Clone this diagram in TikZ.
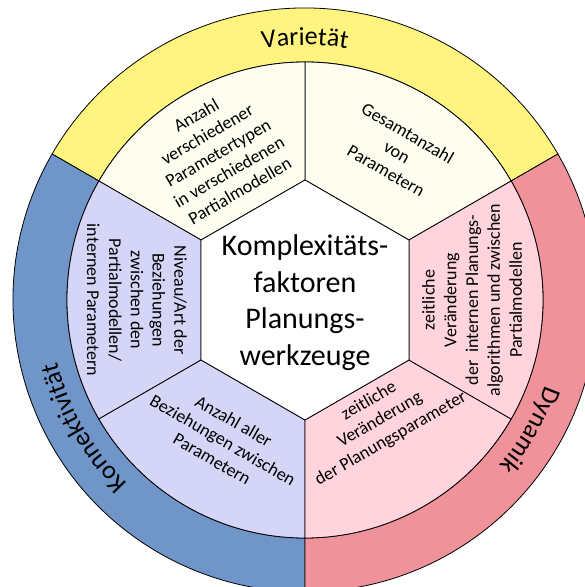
\documentclass[tikz,border=0pt]{standalone}
\usepackage{fontspec}
\setmainfont{Carlito}
\usetikzlibrary{decorations.text}

\definecolor{bandyellow}{RGB}{255,244,128}
\definecolor{bandblue}{RGB}{112,149,201}
\definecolor{bandred}{RGB}{240,146,153}
\definecolor{secCream}{RGB}{253,253,240}
\definecolor{secLav}{RGB}{213,213,247}
\definecolor{secPink}{RGB}{255,212,221}

\newcommand\bandfont{\fontsize{26}{26}\selectfont}

\begin{document}
\begin{tikzpicture}[x=1pt,y=1pt,
  edge/.style={draw=black, line width=0.8pt},
  ringlabel/.style={decorate,
    decoration={text along path, text align=center, text={#1}}},
  factor/.style={align=center, inner sep=0pt,
    font=\fontsize{18}{21.8}\selectfont},
  core/.style={align=center, inner sep=0pt,
    font=\fontsize{30}{36.6}\selectfont},
]
\useasboundingbox (-305,-287) rectangle (280,300);

% outer ring: three bands
\foreach \a/\c in {30/bandyellow, 150/bandblue, 270/bandred}{
  \filldraw[fill=\c, edge] (\a:238) -- (\a:292)
    arc[start angle=\a, end angle=\a+120, radius=292pt]
    -- (\a+120:238)
    arc[start angle=\a+120, end angle=\a, radius=238pt] -- cycle;
}

% six factor sectors between ring and hexagon
\foreach \a/\c in {30/secCream, 90/secCream, 150/secLav, 210/secLav,
                   270/secPink, 330/secPink}{
  \filldraw[fill=\c, edge] (\a:120) -- (\a:238)
    arc[start angle=\a, end angle=\a+60, radius=238pt]
    -- (\a+60:120) -- cycle;
}

% central hexagon
\filldraw[fill=white, edge] (30:120) -- (90:120) -- (150:120) -- (210:120)
  -- (270:120) -- (330:120) -- cycle;

% band labels along the ring
\path[ringlabel={|\bandfont|Varietät}]
  (150:255) arc[start angle=150, end angle=30, radius=255pt];
\path[ringlabel={|\bandfont|Konnektivität}]
  (270:255) arc[start angle=270, end angle=150, radius=255pt];
\path[ringlabel={|\bandfont|Dynamik}]
  (30:255) arc[start angle=30, end angle=-90, radius=255pt];

% centre title
\node[core] (title) at (0,-2.5)
  {Komplexitäts-\\faktoren\\Planungs-\\werkzeuge};

% factor texts
\node[factor, rotate=30] (typen) at (-87,147)
  {Anzahl\\verschiedener\\Parametertypen\\in verschiedenen\\Partialmodellen};
\node[factor, rotate=-30] (gesamt) at (92,148)
  {Gesamtanzahl\\von\\Parametern};
\node[factor, rotate=-90] (niveau) at (-168,0)
  {Niveau/Art der\\Beziehungen\\zwischen den\\Partialmodellen/\\internen Parametern};
\node[factor, rotate=-30] (bez) at (-82,-140)
  {Anzahl aller\\Beziehungen zwischen\\Parametern};
\node[factor, rotate=30] (planpar) at (75,-120)
  {zeitliche\\Veränderung\\der Planungsparameter};
\node[factor, rotate=90] (algo) at (167,0)
  {zeitliche\\Veränderung\\der\ \ internen Planungs-\\algorithmen und zwischen\\Partialmodellen};
\end{tikzpicture}
\end{document}
